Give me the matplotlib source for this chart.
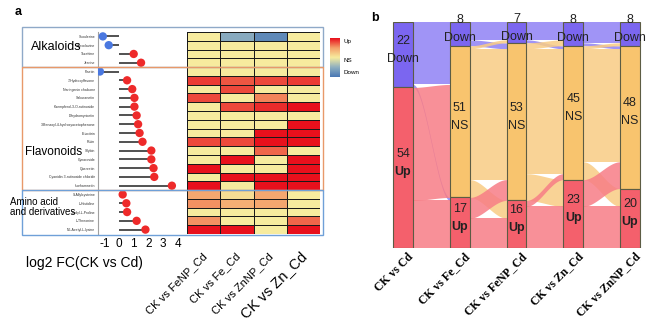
import numpy as np
import matplotlib
matplotlib.use("Agg")
import matplotlib.pyplot as plt
from matplotlib.colors import LinearSegmentedColormap
from matplotlib.patches import Rectangle
import matplotlib.transforms as mtransforms

plt.rcParams['font.family'] = ['Liberation Sans', 'DejaVu Sans']
plt.rcParams['axes.unicode_minus'] = False

# ---- panel a data ----
alkaloids = ["Scoulerine", "Agroclavine", "Tazettine", "Jervine"]
flavonoids = ["Fisetin", "7-Hydroxyflavone", "Naringenin chalcone", "Sakuranetin",
              "Kaempferol-3-O-rutinoside", "Dihydromyricetin",
              "3-Benzoyl-4-hydroxyacetophenone", "Eriocitrin", "Rutin", "Silybin",
              "Cynaroside", "Quercetin", "Cyanidin 3-rutinoside chloride", "Isorhamnetin"]
amino = ["S-Allylcysteine", "L-Histidine", "Prolyl-L-Proline", "L-Threonine",
         "N6-Acetyl-L-lysine"]
metabolites = alkaloids + flavonoids + amino

log2fc = [-1.1, -0.7, 1.0, 1.5,
          -1.3, 0.55, 0.9, 1.05, 1.05, 1.2, 1.3, 1.4, 1.6, 2.2, 2.2, 2.35, 2.4, 3.6,
          0.25, 0.5, 0.55, 1.2, 1.8]

heat_cols = ["CK vs FeNP_Cd", "CK vs Fe_Cd", "CK vs ZnNP_Cd", "CK vs Zn_Cd"]
# -1 = Down, 0 = NS, 1 = Up
heat = [[0, -0.55, -0.85, 0],
        [0, 0, 0, 0],
        [0, 0, 0, 0],
        [0, 0, 0, 0],
        [0, 0, 0, 0],
        [0.85, 0.75, 0.8, 0.85],
        [0, 0.8, 0, 0],
        [0.8, 0, 0.6, 0],
        [0, 0.8, 0.9, 1],
        [0, 0, 0, 0],
        [0, 0, 0, 1],
        [0, 0, 1, 1],
        [0.8, 0.8, 1, 1],
        [0, 0, 0.7, 0],
        [0, 1, 0, 1],
        [1, 0, 0, 1],
        [0, 1, 1, 1],
        [1, 0, 1, 1],
        [0.45, 0.1, 0.45, 0],
        [0.55, 0.4, 0.45, 0],
        [0, 0, 0, 0],
        [0.55, 0, 0, 0.7],
        [1, 1, 0, 1]]

# ---- panel b data ----
groups = ["CK vs Cd", "CK vs Fe_Cd", "CK vs FeNP_Cd", "CK vs Zn_Cd", "CK vs ZnNP_Cd"]
n_down = [22, 8, 7, 8, 8]
n_ns = [0, 51, 53, 45, 48]
n_up = [54, 17, 16, 23, 20]
# transitions between neighbouring comparisons, rows/cols = Down, NS, Up
flows = [
    [[8, 13, 1], [0, 0, 0], [0, 38, 16]],
    [[6, 2, 0], [1, 44, 6], [0, 7, 10]],
    [[6, 1, 0], [2, 42, 9], [0, 2, 14]],
    [[7, 1, 0], [1, 38, 6], [0, 9, 14]],
]

W, H = 650, 323
fig = plt.figure(figsize=(6.5, 3.23), dpi=100)


def fbox(x0, y0, x1, y1):
    # pixel box (top-left origin) -> figure fraction rect
    return [x0 / W, 1 - y1 / H, (x1 - x0) / W, (y1 - y0) / H]


# lollipop
ax = fig.add_axes(fbox(98, 32, 187, 234))
ypos = np.arange(len(metabolites))
ax.hlines(ypos, 0, log2fc, color='#333333', lw=1.2, zorder=2)
dot_c = ['#ee2a2a' if v > 0 else '#4a78e0' for v in log2fc]
ax.scatter(log2fc, ypos, s=36, c=dot_c, zorder=3, lw=0)
ax.set_ylim(len(metabolites) - 0.5, -0.5)
ax.set_xlim(-1.43, 4.63)
ax.set_yticks(ypos)
ax.set_xticks([-1, 0, 1, 2, 3, 4])
ax.tick_params(length=0)
ax.tick_params(axis='x', pad=3, labelsize=8.5)
ax.tick_params(axis='y', pad=2, labelsize=2.5, labelcolor='#333333')
ax.set_yticklabels(metabolites)
for s in ['top', 'right', 'bottom']:
    ax.spines[s].set_visible(False)
ax.spines['left'].set_color('#a0a0a0')
ax.patch.set_alpha(0)

# heatmap
cmap = LinearSegmentedColormap.from_list(
    'updown', ['#4a78b4', '#8fb0c0', '#f7ec9e', '#f4a06a', '#e8101c'])
ax2 = fig.add_axes(fbox(187, 32, 320, 234))
ax2.pcolormesh(np.array(heat), cmap=cmap, vmin=-1, vmax=1,
               edgecolors='#1a1a1a', linewidth=0.6)
ax2.set_ylim(len(metabolites), 0)
ax2.set_xlim(0, 4)
ax2.set_yticks([])
ax2.set_xticks(np.arange(4) + 0.5)
ax2.set_xticklabels(heat_cols, rotation=45, ha='right', va='center',
                    rotation_mode='anchor', fontsize=8)
ax2.tick_params(length=0, pad=15)
labs = ax2.get_xticklabels()
labs[-1].set_fontsize(10.5)
for t in labs:
    t.set_transform(t.get_transform() +
                    mtransforms.ScaledTranslation(1 / 72, 0, fig.dpi_scale_trans))
for s in ax2.spines.values():
    s.set_visible(False)

# group frames
frame_specs = [(27, 67, '#8fa9c8'), (67, 190, '#e8996a'), (190, 235, '#6fa0d8')]
for y0, y1, col in frame_specs:
    fig.add_artist(Rectangle((22 / W, 1 - y1 / H), 301 / W, (y1 - y0) / H,
                             transform=fig.transFigure, fill=False,
                             edgecolor=col, lw=1))

fig.text(31 / W, 1 - 47 / H, "Alkaloids", fontsize=9, va='center')
fig.text(25 / W, 1 - 152 / H, "Flavonoids", fontsize=8.5, va='center')
fig.text(10 / W, 1 - 207 / H, "Amino acid\nand derivatives", fontsize=7,
         va='center', linespacing=1.1)
fig.text(26 / W, 1 - 263 / H, "log2 FC(CK vs Cd)", fontsize=10, va='center')
fig.text(15 / W, 1 - 12 / H, "a", fontsize=9, fontweight='bold', va='center')

# colour key
cax = fig.add_axes(fbox(330, 38, 340, 77))
cax.imshow(np.linspace(1, -1, 100).reshape(-1, 1), cmap=cmap, aspect='auto',
           vmin=-1, vmax=1)
cax.set_xticks([])
cax.set_yticks([])
for s in cax.spines.values():
    s.set_visible(False)
fig.text(343 / W, 1 - 42 / H, "Up", fontsize=4.5, va='center')
fig.text(343 / W, 1 - 60 / H, "NS", fontsize=4.5, va='center')
fig.text(343 / W, 1 - 73 / H, "Down", fontsize=4.5, va='center')

# ---- panel b: alluvial ----
fig.text(371 / W, 1 - 18 / H, "b", fontsize=9, fontweight='bold', va='center')
axb = fig.add_axes(fbox(380, 22, 648, 248))
total = n_down[0] + n_ns[0] + n_up[0]
axb.set_ylim(0, total)
axb.set_xlim(-0.405, 4.317)
bw = 0.352
xs_col = np.arange(len(groups))

node_c = ['#7b66f0', '#f8c46e', '#f4606c']
flow_c = ['#8f82f5', '#f9cc84', '#f77d86']
cat_txt = ['Down', 'NS', 'Up']

tops = []
for i in range(len(groups)):
    cnt = [n_down[i], n_ns[i], n_up[i]]
    t = [total, total - cnt[0], total - cnt[0] - cnt[1]]
    tops.append(t)

for i, fm in enumerate(flows):
    out_off = list(tops[i])
    in_off = list(tops[i + 1])
    x0 = xs_col[i] + bw / 2
    x1 = xs_col[i + 1] - bw / 2
    xx = np.linspace(x0, x1, 80)
    tt = (xx - x0) / (x1 - x0)
    ss = tt * tt * (3 - 2 * tt)
    for a in range(3):
        for b in range(3):
            v = fm[a][b]
            if v == 0:
                continue
            top = out_off[a] + (in_off[b] - out_off[a]) * ss
            axb.fill_between(xx, top - v, top, color=flow_c[a], alpha=0.85,
                             lw=0, zorder=1)
            out_off[a] -= v
            in_off[b] -= v

for i in range(len(groups)):
    cnt = [n_down[i], n_ns[i], n_up[i]]
    for k in range(3):
        if cnt[k] == 0:
            continue
        top = tops[i][k]
        axb.add_patch(Rectangle((xs_col[i] - bw / 2, top - cnt[k]), bw, cnt[k],
                                facecolor=node_c[k], edgecolor='#5c5c44',
                                lw=0.8, zorder=3))
        yc = top - cnt[k] / 2
        axb.annotate(str(cnt[k]), (xs_col[i], yc), xytext=(0, 10),
                     textcoords='offset points', ha='center', va='center',
                     fontsize=9, color='#222222', zorder=4, annotation_clip=False)
        axb.annotate(cat_txt[k], (xs_col[i], yc), xytext=(0, -3),
                     textcoords='offset points', ha='center', va='center',
                     fontsize=9, color='#222222', zorder=4,
                     fontweight='bold' if k == 2 else 'normal',
                     annotation_clip=False)

axb.set_yticks([])
axb.set_xticks(xs_col)
axb.set_xticklabels(groups, rotation=45, ha='right', va='center',
                    rotation_mode='anchor', fontsize=8.5, fontweight='bold',
                    family=['Liberation Serif', 'DejaVu Serif'])
axb.tick_params(length=0, pad=5)
for t in axb.get_xticklabels():
    t.set_transform(t.get_transform() +
                    mtransforms.ScaledTranslation(6 / 72, 0, fig.dpi_scale_trans))
for s in axb.spines.values():
    s.set_visible(False)

fig.savefig("out.png", dpi=100)
